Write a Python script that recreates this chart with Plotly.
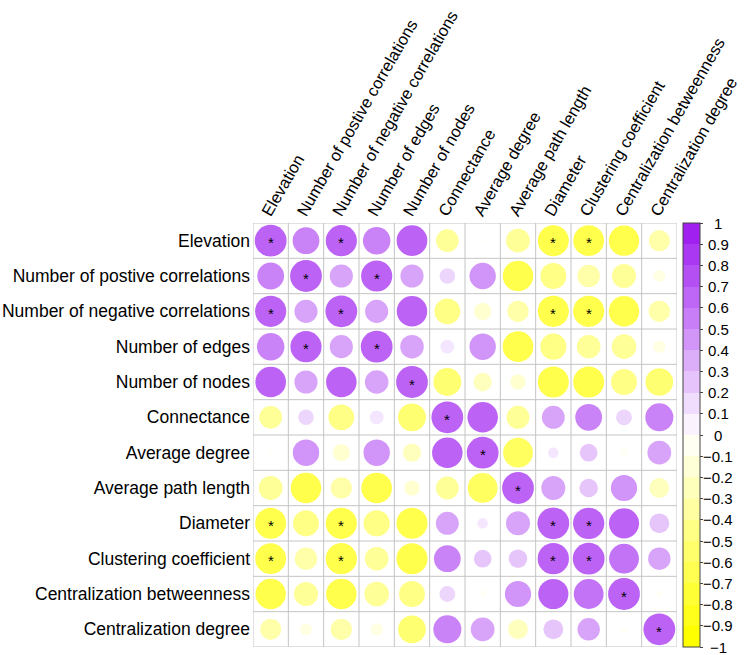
import numpy as np
import plotly.graph_objects as go

labels = ["Elevation", "Number of postive correlations", "Number of negative correlations",
          "Number of edges", "Number of nodes", "Connectance", "Average degree",
          "Average path length", "Diameter", "Clustering coefficient",
          "Centralization betweenness", "Centralization degree"]

# upper triangle rows (row i, columns i..11)
r0 = [1.00, 0.71, 0.96, 0.75, 0.93, -0.51, -0.01, -0.56, -0.95, -0.94, -0.91, -0.44]
r1 = [1.00, 0.53, 0.96, 0.53, 0.24, 0.69, -0.92, -0.67, -0.50, -0.57, -0.14]
r2 = [1.00, 0.53, 0.92, -0.66, -0.29, -0.45, -0.96, -0.96, -0.92, -0.45]
r3 = [1.00, 0.55, 0.19, 0.69, -0.93, -0.68, -0.55, -0.60, -0.15]
r4 = [1.00, -0.77, -0.33, -0.23, -0.95, -0.95, -0.66, -0.76]
r5 = [1.00, 0.92, -0.52, 0.52, 0.71, 0.25, 0.78]
r6 = [1.00, -0.88, 0.11, 0.31, -0.05, 0.56]
r7 = [1.00, 0.57, 0.34, 0.68, -0.39]
r8 = [1.00, 0.97, 0.90, 0.39]
r9 = [1.00, 0.88, 0.50]
r10 = [1.00, -0.04]
r11 = [1.00]
upper_rows = [r0, r1, r2, r3, r4, r5, r6, r7, r8, r9, r10, r11]

# significant pairs (p < 0.05), besides diagonal
sig_pairs = [(0, 2), (1, 3), (0, 8), (0, 9), (2, 8), (2, 9), (8, 9)]

ticks = [round(-1 + 0.1 * k, 1) for k in range(21)]

n = len(labels)
M = np.zeros((n, n))
for i, row in enumerate(upper_rows):
    for k, v in enumerate(row):
        M[i, i + k] = v
        M[i + k, i] = v
S = np.eye(n, dtype=bool)
for a, b in sig_pairs:
    S[a, b] = S[b, a] = True

# colour ramp yellow -> white -> purple, 20 bins
def ramp(t):
    y, w, p = np.array([255, 255, 0]), np.array([255, 255, 255]), np.array([160, 32, 240])
    if t <= 0.5:
        c = y + (w - y) * (t / 0.5)
    else:
        c = w + (p - w) * ((t - 0.5) / 0.5)
    return "rgb(%d,%d,%d)" % tuple(np.round(c).astype(int))

nb = 20
bins = [ramp(i / (nb - 1)) for i in range(nb)]
cscale = []
for i, c in enumerate(bins):
    cscale.append([i / nb, c])
    cscale.append([(i + 1) / nb, c])

W, H = 744, 655
L, T = 253, 223
cell = 35.33
PW = PH = cell * n
R = W - L - PW
B = H - T - PH
FONT = "Liberation Sans, Arial"
LBL = 17.5

xs, ys, vals = [], [], []
for i in range(n):
    for j in range(n):
        xs.append(j)
        ys.append(i)
        vals.append(M[i, j])
vals = np.array(vals)
sizes = 0.9 * np.sqrt(np.abs(vals)) * cell

fig = go.Figure()
fig.add_trace(go.Scatter(
    x=xs, y=ys, mode="markers",
    marker=dict(size=sizes, color=vals, colorscale=cscale, cmin=-1, cmax=1,
                line=dict(width=0),
                colorbar=dict(
                    x=(683 - L) / PW, xanchor="left", y=0.5, yanchor="middle",
                    len=1, lenmode="fraction", thickness=17, thicknessmode="pixels",
                    outlinewidth=1, outlinecolor="#444",
                    tickvals=ticks, showticklabels=False,
                    ticks="outside", ticklen=3, tickcolor="#444",
                    xpad=0, ypad=0)),
    hoverinfo="skip", showlegend=False))

# grid lines
shapes = []
for k in range(n + 1):
    shapes.append(dict(type="line", xref="x", yref="y", x0=k - 0.5, x1=k - 0.5, y0=-0.5, y1=n - 0.5,
                       line=dict(color="#c4c4c4", width=1)))
    shapes.append(dict(type="line", xref="x", yref="y", y0=k - 0.5, y1=k - 0.5, x0=-0.5, x1=n - 0.5,
                       line=dict(color="#c4c4c4", width=1)))

annotations = []
for i in range(n):
    for j in range(n):
        if S[i, j]:
            annotations.append(dict(x=j, y=i, xref="x", yref="y", text="*", showarrow=False,
                                    yshift=-2, font=dict(family=FONT, size=15, color="black")))

# colorbar labels, centred like the reference
for t in ticks:
    annotations.append(dict(x=(718 - L) / PW, y=(t + 1) / 2, xref="paper", yref="paper",
                            text=("%g" % t).replace("-", "\u2212"), showarrow=False,
                            xanchor="center", yanchor="middle",
                            font=dict(family=FONT, size=15, color="black")))

fig.update_layout(
    width=W, height=H, margin=dict(l=L, r=R, t=T, b=B, autoexpand=False),
    plot_bgcolor="white", paper_bgcolor="white",
    shapes=shapes, annotations=annotations,
    xaxis=dict(range=[-0.5, n - 0.5], side="top", tickvals=list(range(n)), ticktext=labels,
               tickangle=-60, showgrid=False, zeroline=False, showline=False, ticks="",
               automargin=False, ticklabeloverflow="allow", ticklabelshift=-7,
               ticklabelstandoff=-3,
               tickfont=dict(family=FONT, size=16.5, color="black")),
    yaxis=dict(range=[n - 0.5, -0.5], tickvals=list(range(n)), ticktext=labels,
               showgrid=False, zeroline=False, showline=False, ticks="", automargin=False,
               ticklabelstandoff=2, ticklabeloverflow="allow",
               tickfont=dict(family=FONT, size=LBL, color="black")),
)

fig.write_html("out.html", config={"displayModeBar": False},
               post_script="document.body.style.margin='0';")
